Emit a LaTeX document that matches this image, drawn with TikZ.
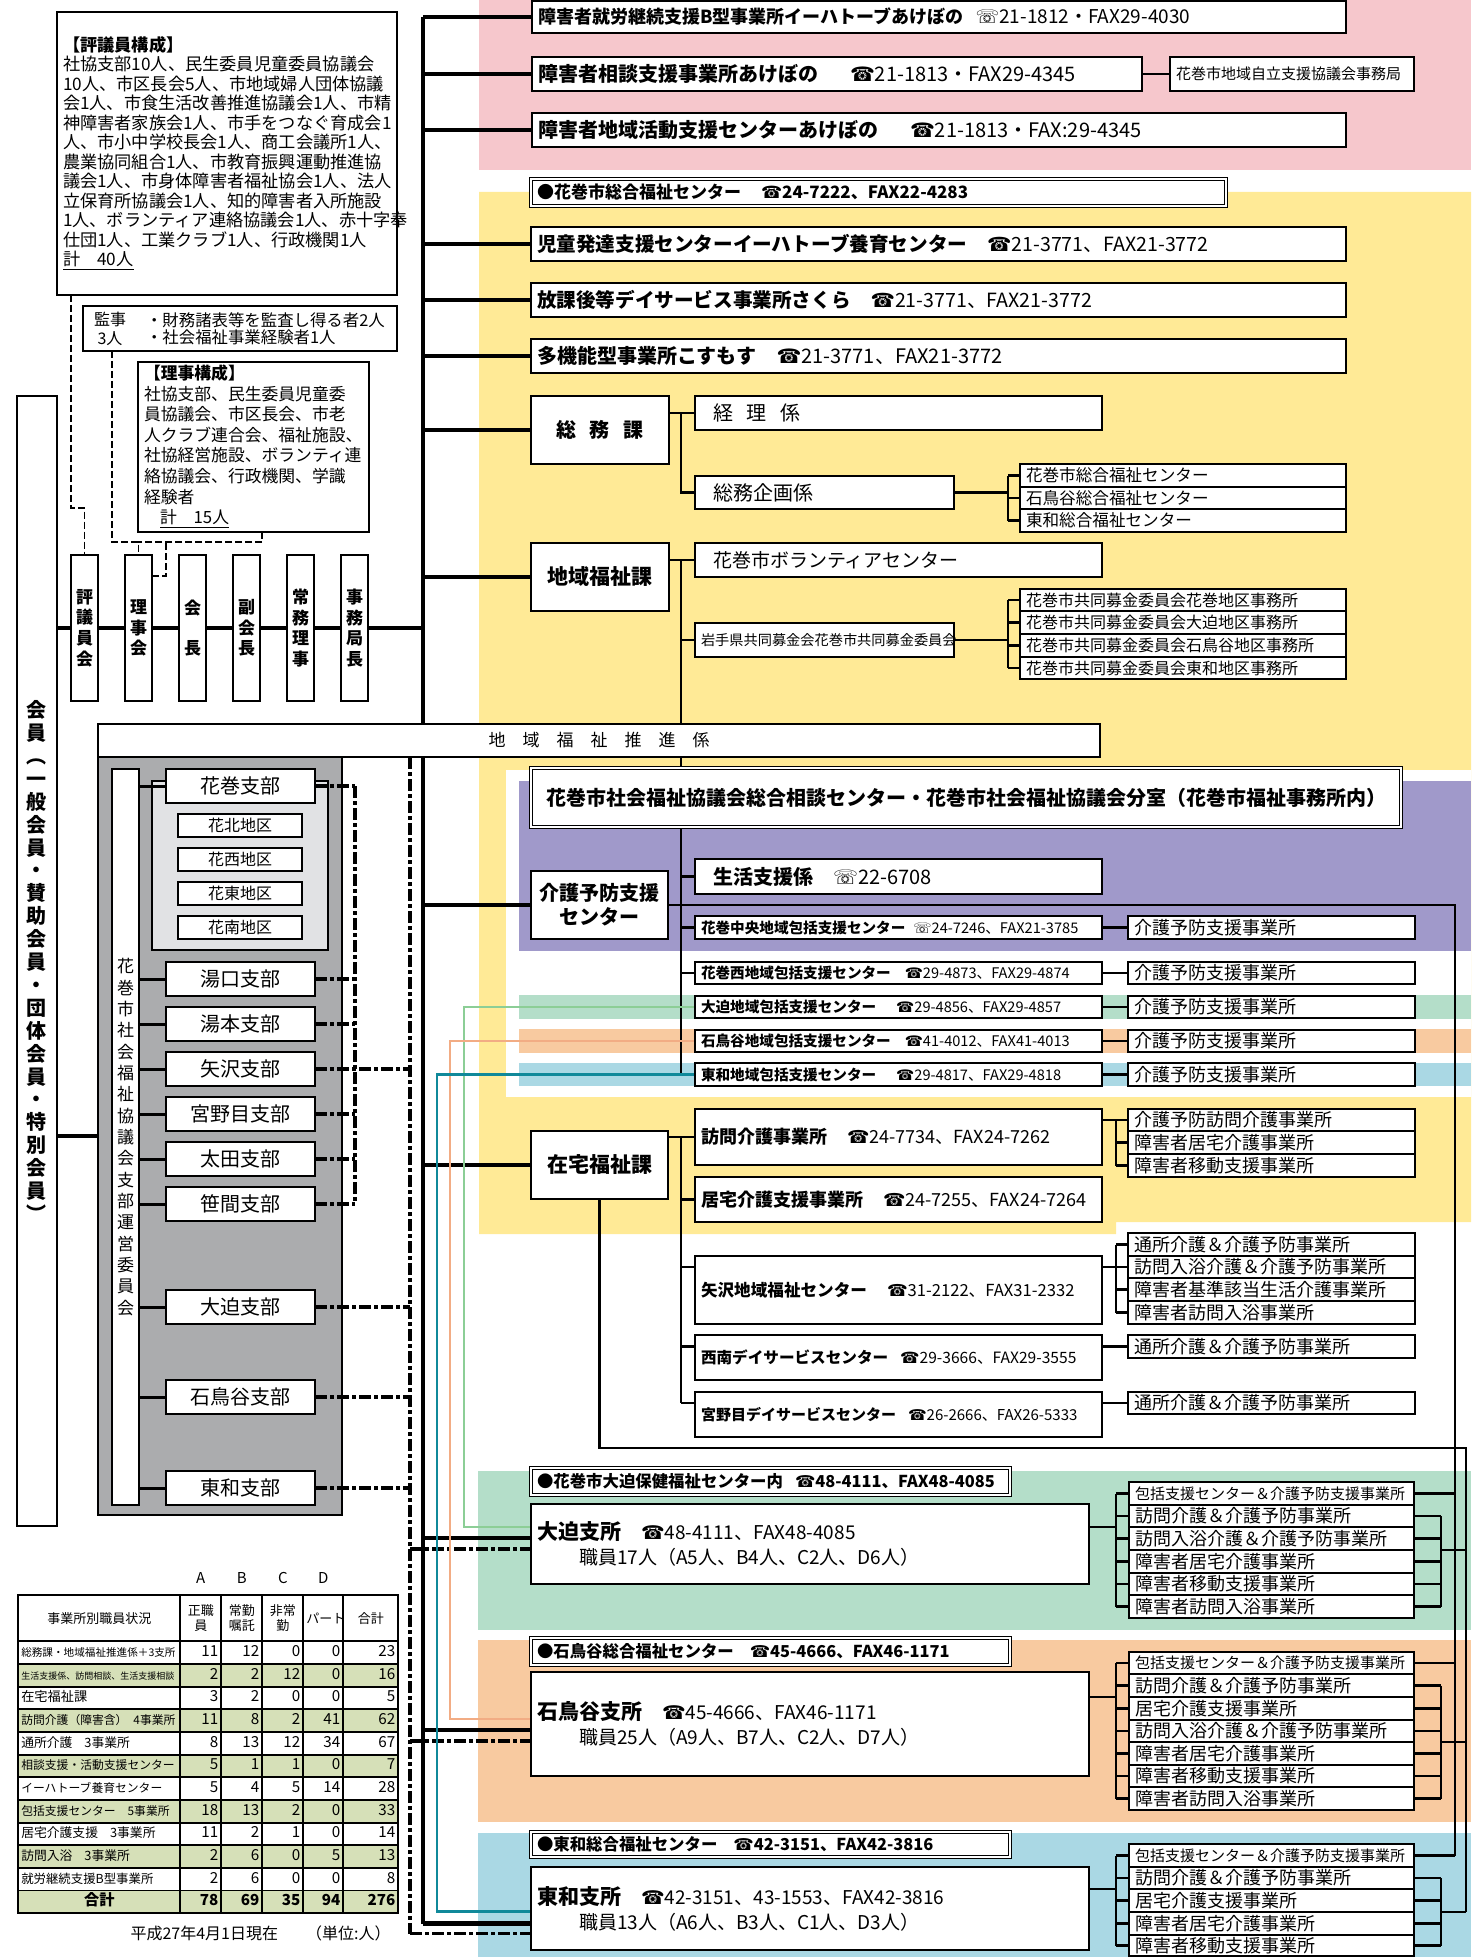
\documentclass[tikz,border=0pt]{standalone}
\usepackage{fontspec}
\setmainfont{Noto Sans CJK JP}
\newfontfamily\symfont{DejaVu Sans}
\usepackage{tikz}
\usetikzlibrary{positioning,matrix}
\definecolor{pinkbg}{RGB}{246,199,204}
\definecolor{yellowbg}{RGB}{255,234,150}
\definecolor{purplebg}{RGB}{160,153,202}
\definecolor{greenbg}{RGB}{180,222,201}
\definecolor{orangebg}{RGB}{248,202,160}
\definecolor{bluebg}{RGB}{170,216,228}
\definecolor{greenln}{RGB}{140,206,150}
\definecolor{orangeln}{RGB}{242,172,132}
\definecolor{tealln}{RGB}{16,137,154}
\definecolor{shibugray}{RGB}{171,172,174}
\definecolor{hanagray}{RGB}{225,226,228}
\definecolor{tablegreen}{RGB}{214,224,184}
\newcommand{\fsz}[2]{\fontsize{#1pt}{#2pt}\selectfont}
\newcommand{\tel}{{\symfont ☎}}
\newcommand{\wtel}{{\symfont ☏}}
\pgfdeclarelayer{bg}
\pgfdeclarelayer{wires}
\pgfsetlayers{bg,wires,main}
\tikzstyle{box} = [draw, fill=white, line width=1.1pt, outer sep=0pt, inner xsep=3pt, inner ysep=0pt, align=left]
\tikzstyle{cbox} = [align=center]
\tikzstyle{hdbox} = [double, double distance=0.9pt, line width=0.7pt]
\tikzstyle{tall} = [draw, fill=white, line width=1.1pt, outer sep=0pt, inner sep=0pt, align=center, minimum width=13.5pt, minimum height=73pt, font=\bfseries\fsz{8.5}{10.3}]
\tikzstyle{shibu} = [draw, fill=white, line width=1.2pt, outer sep=0pt, inner sep=0pt, minimum width=74.5pt, minimum height=17pt, font=\fsz{10}{11}]
\tikzstyle{chiku} = [draw, fill=white, line width=1.1pt, outer sep=0pt, inner sep=0pt, minimum width=62pt, minimum height=11.75pt, font=\fsz{8}{9}]
\tikzstyle{trunk} = [line width=2.2pt]
\tikzstyle{link} = [line width=1.3pt]
\tikzstyle{branch} = [line width=1.5pt]
\tikzstyle{dashlink} = [line width=1.8pt, dash pattern=on 6pt off 1.5pt on 2pt off 1.5pt]
\tikzstyle{dotlink} = [line width=0.9pt, dash pattern=on 3.5pt off 1.5pt]
\tikzstyle{greenline} = [line width=1.3pt, draw=greenln]
\tikzstyle{orangeline} = [line width=1.3pt, draw=orangeln]
\tikzstyle{tealline} = [line width=1.3pt, draw=tealln]
\newcommand{\bx}[7][]{%
  \pgfmathsetmacro{\bxw}{(#5-#3)/2-6}%
  \pgfmathsetmacro{\bxh}{(#6-#4)/2}%
  \node[box, text width=\bxw pt, minimum height=\bxh pt, #1] (#2) at ({(#3+#5)/2},{(#4+#6)/2}) {#7};}
\begin{document}
\begin{tikzpicture}[x=0.5pt, y=-0.5pt]
\useasboundingbox (0,0) rectangle (1471,1957);

\begin{pgfonlayer}{bg}
\fill[pinkbg] (479,0) rectangle (1471,170);
\fill[yellowbg] (479,192) -- (1471,192) -- (1471,1222) -- (1116,1222) -- (1116,1234) -- (479,1234) -- cycle;
\fill[white] (506,770) rectangle (1471,1097);
\fill[purplebg] (519,781) rectangle (1471,951);
\fill[greenbg] (519,995) rectangle (1471,1019);
\fill[orangebg] (519,1029) rectangle (1471,1053);
\fill[bluebg] (519,1063) rectangle (1471,1086);
\fill[greenbg] (478,1471) rectangle (1471,1630);
\fill[orangebg] (478,1640) rectangle (1471,1822);
\fill[bluebg] (478,1833) rectangle (1471,1957);
\bx[fill=shibugray]{shibuarea}{98}{757}{342}{1515}{}
\bx[fill=hanagray, line width=0.8pt]{hanaarea}{152}{781}{328}{950}{}
\end{pgfonlayer}

\bx[font=\fsz{8.6}{9.75}]{hyogi}{57}{12}{397}{295}{\textbf{【評議員構成】}\\社協支部10人、民生委員児童委員協議会\\10人、市区長会5人、市地域婦人団体協議\\会1人、市食生活改善推進協議会1人、市精\\神障害者家族会1人、市手をつなぐ育成会1\\人、市小中学校長会1人、商工会議所1人、\\農業協同組合1人、市教育振興運動推進協\\議会1人、市身体障害者福祉協会1人、法人\\立保育所協議会1人、知的障害者入所施設\\1人、ボランティア連絡協議会1人、赤十字奉\\仕団1人、工業クラブ1人、行政機関1人\\\underline{計　40人}}
\bx{kanji}{83}{306}{397}{351}{}
\node[font=\fsz{8}{9.5}, align=center] (kanjiL) at ([xshift=13.5pt]kanji.west) {監事\\3人};
\node[font=\fsz{8.2}{8.7}, align=left, anchor=west] (kanjiR) at ([xshift=28pt]kanji.west) {・財務諸表等を監査し得る者2人\\・社会福祉事業経験者1人};
\bx[font=\fsz{8.4}{10.3}]{riji}{138}{362}{369}{532}{\textbf{【理事構成】}\\社協支部、民生委員児童委\\員協議会、市区長会、市老\\人クラブ連合会、福祉施設、\\社協経営施設、ボランティ連\\絡協議会、行政機関、学識\\経験者\\\hspace*{8pt}\underline{計　15人}}

\node[tall] (hyogikai) at (84.5,628) {評\\議\\員\\会};
\node[tall, right=13.5pt of hyogikai] (rijikai) {理\\事\\会};
\node[tall, right=13.5pt of rijikai] (kaicho) {会\\[10pt]長};
\node[tall, right=13.5pt of kaicho] (fukukaicho) {副\\会\\長};
\node[tall, right=13.5pt of fukukaicho] (jomu) {常\\務\\理\\事};
\node[tall, right=13.5pt of jomu] (jimukyoku) {事\\務\\局\\長};

\bx[align=center, inner xsep=0pt, text width=20pt, font=\bfseries\fsz{10}{11.45}]{kaiin}{17}{396}{57}{1526}{会\\員\\︵\\一\\般\\会\\員\\・\\賛\\助\\会\\員\\・\\団\\体\\会\\員\\・\\特\\別\\会\\員\\︶}
\bx[align=center, font=\fsz{8.5}{10}]{suishin}{98}{724}{1100}{757}{地　域　福　祉　推　進　係}
\bx[align=center, inner xsep=0pt, text width=13.5pt, font=\fsz{8.5}{10.67}]{unei}{112}{769}{139}{1505}{花\\巻\\市\\社\\会\\福\\祉\\協\\議\\会\\支\\部\\運\\営\\委\\員\\会}

\node[shibu] (hanamaki) at (240.5,786) {花巻支部};
\node[chiku] (kahoku) at (240,825.5) {花北地区};
\node[chiku, below=5.25pt of kahoku] (kasai) {花西地区};
\node[chiku, below=5.25pt of kasai] (katou) {花東地区};
\node[chiku, below=5.25pt of katou] (kanan) {花南地区};
\node[shibu] (yuguchi) at (240.5,979) {湯口支部};
\node[shibu, below=5.5pt of yuguchi] (yumoto) {湯本支部};
\node[shibu, below=5.5pt of yumoto] (yazawa) {矢沢支部};
\node[shibu, below=5.5pt of yazawa] (miyanome) {宮野目支部};
\node[shibu, below=5.5pt of miyanome] (ota) {太田支部};
\node[shibu, below=5.5pt of ota] (sasama) {笹間支部};
\node[shibu] (ohasama) at (240.5,1307) {大迫支部};
\node[shibu] (ishidoriya) at (240.5,1397) {石鳥谷支部};
\node[shibu] (towa) at (240.5,1488) {東和支部};

\bx[font=\fsz{9}{10}]{shuro}{532}{1}{1346}{33}{\textbf{障害者就労継続支援B型事業所イーハトーブあけぼの}\hspace{6pt}{\fsz{9.5}{10}\wtel21-1812・FAX29-4030}}
\bx[font=\fsz{10}{11}]{sodan}{532}{57}{1142}{91}{\textbf{障害者相談支援事業所あけぼの}\hspace{16pt}\tel21-1813・FAX29-4345}
\bx[font=\fsz{7.5}{8.5}]{jiritsu}{1170}{57}{1414}{91}{花巻市地域自立支援協議会事務局}
\bx[font=\fsz{10}{11}]{katsudo}{532}{113}{1346}{147}{\textbf{障害者地域活動支援センターあけぼの}\hspace{16pt}\tel21-1813・FAX:29-4345}
\bx[hdbox, font=\bfseries\fsz{8.5}{9.5}]{fukushiC}{531}{179}{1226}{206}{●花巻市総合福祉センター\hspace{10pt}\tel24-7222、FAX22-4283}
\bx[font=\fsz{9.8}{11}]{jido}{531}{227}{1346}{261}{\textbf{児童発達支援センターイーハトーブ養育センター}\hspace{10pt}\tel21-3771、FAX21-3772}
\bx[font=\fsz{9.8}{11}]{hokago}{531}{283}{1346}{317}{\textbf{放課後等デイサービス事業所さくら}\hspace{10pt}\tel21-3771、FAX21-3772}
\bx[font=\fsz{10}{11}]{kosumosu}{531}{339}{1346}{373}{\textbf{多機能型事業所こすもす}\hspace{10pt}\tel21-3771、FAX21-3772}
\bx[cbox, font=\bfseries\fsz{10}{11}]{somu}{531}{396}{669}{464}{総\hspace{7pt}務\hspace{7pt}課}
\bx[font=\fsz{10}{11}]{keiri}{695}{396}{1102}{430}{\hspace*{6pt}経\hspace{7pt}理\hspace{7pt}係}
\bx[font=\fsz{10}{11}]{kikaku}{695}{476}{954}{509}{\hspace*{6pt}総務企画係}
\bx[font=\fsz{8.3}{9}]{sc1}{1020}{464}{1346}{487}{花巻市総合福祉センター}
\bx[font=\fsz{8.3}{9}]{sc2}{1020}{487}{1346}{509}{石鳥谷総合福祉センター}
\bx[font=\fsz{8.3}{9}]{sc3}{1020}{509}{1346}{532}{東和総合福祉センター}
\bx[cbox, font=\bfseries\fsz{10.5}{11}]{chiiki}{531}{543}{669}{611}{地域福祉課}
\bx[font=\fsz{9.5}{11}]{volunteer}{695}{543}{1102}{577}{\hspace*{6pt}花巻市ボランティアセンター}
\bx[font=\fsz{7.1}{8}]{iwate}{695}{623}{954}{657}{岩手県共同募金会花巻市共同募金委員会}
\bx[font=\fsz{8}{9}]{bk1}{1020}{589}{1346}{611}{花巻市共同募金委員会花巻地区事務所}
\bx[font=\fsz{8}{9}]{bk2}{1020}{611}{1346}{634}{花巻市共同募金委員会大迫地区事務所}
\bx[font=\fsz{8}{9}]{bk3}{1020}{634}{1346}{657}{花巻市共同募金委員会石鳥谷地区事務所}
\bx[font=\fsz{8}{9}]{bk4}{1020}{657}{1346}{679}{花巻市共同募金委員会東和地区事務所}

\bx[hdbox, align=center, font=\bfseries\fsz{10}{11}]{sogo}{531}{768}{1401}{827}{花巻市社会福祉協議会総合相談センター・花巻市社会福祉協議会分室（花巻市福祉事務所内）}
\bx[cbox, font=\bfseries\fsz{10}{12}]{kaigo}{531}{871}{668}{939}{介護予防支援\\センター}
\bx[font=\fsz{10}{11}]{seikatsu}{695}{859}{1102}{894}{\hspace*{6pt}\textbf{生活支援係}\hspace{10pt}\wtel22-6708}
\bx[font=\fsz{7.3}{9}]{hk1}{695}{916}{1102}{939}{\textbf{花巻中央地域包括支援センター}\hspace{4pt}\wtel24-7246、FAX21-3785}
\bx[font=\fsz{7.3}{9}]{hk2}{695}{962}{1102}{984}{\textbf{花巻西地域包括支援センター}\hspace{7pt}\tel29-4873、FAX29-4874}
\bx[font=\fsz{7.3}{9}]{hk3}{695}{996}{1102}{1018}{\textbf{大迫地域包括支援センター}\hspace{10pt}\tel29-4856、FAX29-4857}
\bx[font=\fsz{7.3}{9}]{hk4}{695}{1030}{1102}{1052}{\textbf{石鳥谷地域包括支援センター}\hspace{7pt}\tel41-4012、FAX41-4013}
\bx[font=\fsz{7.3}{9}]{hk5}{695}{1063}{1102}{1086}{\textbf{東和地域包括支援センター}\hspace{10pt}\tel29-4817、FAX29-4818}
\bx[font=\fsz{9}{10}]{yb1}{1128}{916}{1415}{939}{介護予防支援事業所}
\bx[font=\fsz{9}{10}]{yb2}{1128}{962}{1415}{984}{介護予防支援事業所}
\bx[font=\fsz{9}{10}]{yb3}{1128}{996}{1415}{1018}{介護予防支援事業所}
\bx[font=\fsz{9}{10}]{yb4}{1128}{1030}{1415}{1052}{介護予防支援事業所}
\bx[font=\fsz{9}{10}]{yb5}{1128}{1063}{1415}{1086}{介護予防支援事業所}

\bx[cbox, font=\bfseries\fsz{10.5}{11}]{zaitaku}{531}{1131}{668}{1199}{在宅福祉課}
\bx[font=\fsz{9}{10}]{homon}{695}{1109}{1102}{1165}{\textbf{訪問介護事業所}\hspace{10pt}\tel24-7734、FAX24-7262}
\bx[font=\fsz{9}{10}]{hm1}{1128}{1109}{1415}{1131}{介護予防訪問介護事業所}
\bx[font=\fsz{9}{10}]{hm2}{1128}{1131}{1415}{1154}{障害者居宅介護事業所}
\bx[font=\fsz{9}{10}]{hm3}{1128}{1154}{1415}{1177}{障害者移動支援事業所}
\bx[font=\fsz{9}{10}]{kyotaku}{695}{1177}{1102}{1222}{\textbf{居宅介護支援事業所}\hspace{10pt}\tel24-7255、FAX24-7264}
\bx[font=\fsz{8.3}{10}]{yazawaC}{695}{1256}{1102}{1324}{\textbf{矢沢地域福祉センター}\hspace{10pt}\tel31-2122、FAX31-2332}
\bx[font=\fsz{9}{10}]{yz1}{1128}{1233}{1415}{1256}{通所介護＆介護予防事業所}
\bx[font=\fsz{9}{10}]{yz2}{1128}{1256}{1415}{1278}{訪問入浴介護＆介護予防事業所}
\bx[font=\fsz{9}{10}]{yz3}{1128}{1278}{1415}{1301}{障害者基準該当生活介護事業所}
\bx[font=\fsz{9}{10}]{yz4}{1128}{1301}{1415}{1324}{障害者訪問入浴事業所}
\bx[font=\fsz{7.8}{10}]{seinan}{695}{1335}{1102}{1380}{\textbf{西南デイサービスセンター}\hspace{6pt}\tel29-3666、FAX29-3555}
\bx[font=\fsz{9}{10}]{sn1}{1128}{1335}{1415}{1358}{通所介護＆介護予防事業所}
\bx[font=\fsz{7.5}{10}]{miyanomeD}{695}{1392}{1102}{1437}{\textbf{宮野目デイサービスセンター}\hspace{6pt}\tel26-2666、FAX26-5333}
\bx[font=\fsz{9}{10}]{mn1}{1128}{1392}{1415}{1414}{通所介護＆介護予防事業所}

\bx[hdbox, font=\bfseries\fsz{8.2}{9.5}]{ohH}{531}{1468}{1010}{1495}{●花巻市大迫保健福祉センター内\hspace{6pt}\tel48-4111、FAX48-4085}
\bx[font=\fsz{9.5}{12.5}]{ohS}{531}{1504}{1089}{1584}{{\bfseries\fsz{10.5}{12.5}大迫支所}\hspace{10pt}\tel48-4111、FAX48-4085\\\hspace*{21pt}職員17人（A5人、B4人、C2人、D6人）}
\bx[font=\fsz{7.5}{9}]{oh1}{1129}{1482}{1414}{1505}{包括支援センター＆介護予防支援事業所}
\bx[font=\fsz{9}{10}]{oh2}{1129}{1505}{1414}{1527}{訪問介護＆介護予防事業所}
\bx[font=\fsz{9}{10}]{oh3}{1129}{1527}{1414}{1550}{訪問入浴介護＆介護予防事業所}
\bx[font=\fsz{9}{10}]{oh4}{1129}{1550}{1414}{1573}{障害者居宅介護事業所}
\bx[font=\fsz{9}{10}]{oh5}{1129}{1573}{1414}{1595}{障害者移動支援事業所}
\bx[font=\fsz{9}{10}]{oh6}{1129}{1595}{1414}{1618}{障害者訪問入浴事業所}

\bx[hdbox, font=\bfseries\fsz{8.2}{9.5}]{isH}{531}{1638}{1010}{1665}{●石鳥谷総合福祉センター\hspace{8pt}\tel45-4666、FAX46-1171}
\bx[font=\fsz{9.5}{12.5}]{isS}{531}{1672}{1089}{1776}{{\bfseries\fsz{10.5}{12.5}石鳥谷支所}\hspace{10pt}\tel45-4666、FAX46-1171\\\hspace*{21pt}職員25人（A9人、B7人、C2人、D7人）}
\bx[font=\fsz{7.5}{9}]{is1}{1129}{1652}{1414}{1674}{包括支援センター＆介護予防支援事業所}
\bx[font=\fsz{9}{10}]{is2}{1129}{1674}{1414}{1697}{訪問介護＆介護予防事業所}
\bx[font=\fsz{9}{10}]{is3}{1129}{1697}{1414}{1720}{居宅介護支援事業所}
\bx[font=\fsz{9}{10}]{is4}{1129}{1720}{1414}{1742}{訪問入浴介護＆介護予防事業所}
\bx[font=\fsz{9}{10}]{is5}{1129}{1742}{1414}{1765}{障害者居宅介護事業所}
\bx[font=\fsz{9}{10}]{is6}{1129}{1765}{1414}{1787}{障害者移動支援事業所}
\bx[font=\fsz{9}{10}]{is7}{1129}{1787}{1414}{1810}{障害者訪問入浴事業所}

\bx[hdbox, font=\bfseries\fsz{8.2}{9.5}]{twH}{531}{1832}{1010}{1857}{●東和総合福祉センター\hspace{8pt}\tel42-3151、FAX42-3816}
\bx[font=\fsz{9.5}{12.5}]{twS}{531}{1867}{1089}{1950}{{\bfseries\fsz{10.5}{12.5}東和支所}\hspace{10pt}\tel42-3151、43-1553、FAX42-3816\\\hspace*{21pt}職員13人（A6人、B3人、C1人、D3人）}
\bx[font=\fsz{7.5}{9}]{tw1}{1129}{1844}{1414}{1867}{包括支援センター＆介護予防支援事業所}
\bx[font=\fsz{9}{10}]{tw2}{1129}{1867}{1414}{1889}{訪問介護＆介護予防事業所}
\bx[font=\fsz{9}{10}]{tw3}{1129}{1889}{1414}{1912}{居宅介護支援事業所}
\bx[font=\fsz{9}{10}]{tw4}{1129}{1912}{1414}{1935}{障害者居宅介護事業所}
\bx[font=\fsz{9}{10}]{tw5}{1129}{1935}{1414}{1956}{障害者移動支援事業所}

\matrix (staff) [matrix of nodes, anchor=north west, inner sep=0pt, row sep=-0.9pt, column sep=-0.9pt,
  nodes={draw, anchor=center, line width=0.9pt, outer sep=0pt, inner xsep=1.5pt, inner ysep=0pt, minimum height=11.33pt, text height=5.6pt, text depth=1.6pt, align=right, font=\fsz{7.6}{8.5}},
  column 1/.style={nodes={text width=78pt, align=left, font=\fsz{5.9}{7}}},
  column 2/.style={nodes={text width=17.5pt}},
  column 3/.style={nodes={text width=17.5pt}},
  column 4/.style={nodes={text width=17.5pt}},
  column 5/.style={nodes={text width=17pt}},
  column 6/.style={nodes={text width=24.5pt}},
  row 1/.style={nodes={minimum height=23pt, text height={}, text depth={}, align=center, font=\fsz{6.5}{7.4}}},
  row 3/.style={nodes={fill=tablegreen}},
  row 5/.style={nodes={fill=tablegreen}},
  row 7/.style={nodes={fill=tablegreen}},
  row 9/.style={nodes={fill=tablegreen}},
  row 11/.style={nodes={fill=tablegreen}},
  row 13/.style={nodes={fill=tablegreen, font=\bfseries\fsz{7.6}{8.5}}}] at (17,1594) {
  事業所別職員状況 & {正職\\員} & {常勤\\嘱託} & {非常\\勤} & パート & 合計 \\
  |[font=\fsz{5.3}{6}]| 総務課・地域福祉推進係＋3支所 & 11 & 12 & 0 & 0 & 23 \\
  |[font=\fsz{4.5}{5}]| 生活支援係、訪問相談、生活支援相談 & 2 & 2 & 12 & 0 & 16 \\
  |[font=\fsz{6.6}{7}]| 在宅福祉課 & 3 & 2 & 0 & 0 & 5 \\
  訪問介護（障害含）\hspace{3pt}4事業所 & 11 & 8 & 2 & 41 & 62 \\
  |[font=\fsz{6.4}{7}]| 通所介護\hspace{6pt}3事業所 & 8 & 13 & 12 & 34 & 67 \\
  相談支援・活動支援センター & 5 & 1 & 1 & 0 & 7 \\
  イーハトーブ養育センター & 5 & 4 & 5 & 14 & 28 \\
  包括支援センター\hspace{6pt}5事業所 & 18 & 13 & 2 & 0 & 33 \\
  |[font=\fsz{6.4}{7}]| 居宅介護支援\hspace{6pt}3事業所 & 11 & 2 & 1 & 0 & 14 \\
  |[font=\fsz{6.4}{7}]| 訪問入浴\hspace{6pt}3事業所 & 2 & 6 & 0 & 5 & 13 \\
  |[font=\fsz{6.2}{7}]| 就労継続支援B型事業所 & 2 & 6 & 0 & 0 & 8 \\
  |[align=center]| 合計 & 78 & 69 & 35 & 94 & 276 \\
};
\node[above=2.5pt of staff-1-2, font=\fsz{7.5}{8}] (colA) {A};
\node[above=2.5pt of staff-1-3, font=\fsz{7.5}{8}] (colB) {B};
\node[above=2.5pt of staff-1-4, font=\fsz{7.5}{8}] (colC) {C};
\node[above=2.5pt of staff-1-5, font=\fsz{7.5}{8}] (colD) {D};
\node[below left=2pt and 1pt of staff.south east, font=\fsz{8}{9}] (asof) {平成27年4月1日現在\hspace{14pt}（単位:人）};

\begin{pgfonlayer}{wires}
\coordinate (spine) at (423,0);
\coordinate (bus) at (681,0);
\coordinate (bus2) at (1008,0);
\coordinate (bxL) at (1116,0);
\coordinate (bxR) at (1441,0);
\coordinate (v1) at (1455,0);
\coordinate (v2) at (1466,0);
\coordinate (dA) at (355,0);
\coordinate (dB) at (410,0);
\coordinate (gx) at (464,0);
\coordinate (ox) at (450,0);
\coordinate (tx) at (437,0);
\coordinate (oB) at ([yshift=3pt]ohS.west);
\coordinate (oG) at ([yshift=8.5pt]ohS.west);
\coordinate (oD) at ([yshift=-2.5pt]ohS.west);
\coordinate (iB) at ([yshift=-3pt]isS.west);
\coordinate (iO) at ([yshift=2.5pt]isS.west);
\coordinate (iD) at ([yshift=-8.5pt]isS.west);
\coordinate (tB) at ([yshift=-7.5pt]twS.west);
\coordinate (tT) at ([yshift=-1.5pt]twS.west);
\coordinate (tD) at ([yshift=-12.5pt]twS.west);

\draw[trunk] (shuro.west -| spine) -- (tB -| spine);
\draw[trunk] (shuro.west -| spine) -- (shuro.west);
\draw[trunk] (sodan.west -| spine) -- (sodan.west);
\draw[trunk] (katsudo.west -| spine) -- (katsudo.west);
\draw[trunk] (jido.west -| spine) -- (jido.west);
\draw[trunk] (hokago.west -| spine) -- (hokago.west);
\draw[trunk] (kosumosu.west -| spine) -- (kosumosu.west);
\draw[trunk] (somu.west -| spine) -- (somu.west);
\draw[trunk] (chiiki.west -| spine) -- (chiiki.west);
\draw[trunk] (kaigo.west -| spine) -- (kaigo.west);
\draw[trunk] (zaitaku.west -| spine) -- (zaitaku.west);
\draw[trunk] (oB -| spine) -- (oB);
\draw[trunk] (iB -| spine) -- (iB);
\draw[trunk] (tB -| spine) -- (tB);
\draw[trunk] (kaiin.east |- jimukyoku.center) -- (jimukyoku.center -| spine);
\draw[trunk] (kaiin.east |- shibuarea.west) -- (shibuarea.west);

\draw[branch] (unei.east |- hanamaki.west) -- (hanamaki.west);
\draw[branch] (unei.east |- yuguchi.west) -- (yuguchi.west);
\draw[branch] (unei.east |- yumoto.west) -- (yumoto.west);
\draw[branch] (unei.east |- yazawa.west) -- (yazawa.west);
\draw[branch] (unei.east |- miyanome.west) -- (miyanome.west);
\draw[branch] (unei.east |- ota.west) -- (ota.west);
\draw[branch] (unei.east |- sasama.west) -- (sasama.west);
\draw[branch] (unei.east |- ohasama.west) -- (ohasama.west);
\draw[branch] (unei.east |- ishidoriya.west) -- (ishidoriya.west);
\draw[branch] (unei.east |- towa.west) -- (towa.west);

\draw[dashlink] (hanamaki.east) -- (hanamaki.east -| dA);
\draw[dashlink] (yuguchi.east) -- (yuguchi.east -| dA);
\draw[dashlink] (yumoto.east) -- (yumoto.east -| dA);
\draw[dashlink] (miyanome.east) -- (miyanome.east -| dA);
\draw[dashlink] (ota.east) -- (ota.east -| dA);
\draw[dashlink] (sasama.east) -- (sasama.east -| dA);
\draw[dashlink] (hanamaki.east -| dA) -- (sasama.east -| dA);
\draw[dashlink] (yazawa.east) -- (yazawa.east -| dB);
\draw[dashlink] (ohasama.east) -- (ohasama.east -| dB);
\draw[dashlink] (ishidoriya.east) -- (ishidoriya.east -| dB);
\draw[dashlink] (towa.east) -- (towa.east -| dB);
\draw[dashlink] (suishin.south -| dB) -- (tD -| dB);
\draw[dashlink] (oD -| dB) -- (oD);
\draw[dashlink] (iD -| dB) -- (iD);
\draw[dashlink] (tD -| dB) -- (tD);

\draw[dotlink] ([xshift=27.5pt]kanji.north west) -- ([xshift=27.5pt]kanji.south west);
\draw[dotlink] ([xshift=7pt]hyogi.south west) -- ++(0,213) -| (hyogikai.north);
\draw[dotlink] ([xshift=14.5pt]kanji.south west) -- ++(0,191) -| (rijikai.north);
\draw[dotlink] ([xshift=62pt]riji.south west) -- ++(0,10) -- ++(-124,0);
\draw[dotlink] ([yshift=-10.5pt]rijikai.north east) -- ++(14,0) -- ++(0,-34);

\draw[link] (sodan.east) -- (jiritsu.west);
\draw[link] (somu.east |- keiri.west) -- (keiri.west);
\draw[link] (keiri.west -| bus) |- (kikaku.west);
\draw[link] (kikaku.east) -- (kikaku.east -| bus2);
\draw[link] (sc1.west -| bus2) -- (sc3.west -| bus2);
\draw[link] (sc1.west -| bus2) -- (sc1.west);
\draw[link] (sc2.west -| bus2) -- (sc2.west);
\draw[link] (sc3.west -| bus2) -- (sc3.west);
\draw[link] (chiiki.east |- volunteer.west) -- (volunteer.west);
\draw[link] (volunteer.west -| bus) -- (sogo.north -| bus);
\draw[link] (iwate.west -| bus) -- (iwate.west);
\draw[link] (iwate.east) -- (iwate.east -| bus2);
\draw[link] (bk1.west -| bus2) -- (bk4.west -| bus2);
\draw[link] (bk1.west -| bus2) -- (bk1.west);
\draw[link] (bk2.west -| bus2) -- (bk2.west);
\draw[link] (bk3.west -| bus2) -- (bk3.west);
\draw[link] (bk4.west -| bus2) -- (bk4.west);

\draw[link] (sogo.south -| bus) -- (hk5.west -| bus);
\draw[link] (seikatsu.west -| bus) -- (seikatsu.west);
\draw[link] (hk1.west -| bus) -- (hk1.west);
\draw[link] (hk2.west -| bus) -- (hk2.west);
\draw[link] (hk3.west -| bus) -- (hk3.west);
\draw[link] (hk4.west -| bus) -- (hk4.west);
\draw[link] (hk5.west -| bus) -- (hk5.west);
\draw[link] (hk1.east) -- (yb1.west);
\draw[link] (hk2.east) -- (yb2.west);
\draw[link] (hk3.east) -- (yb3.west);
\draw[link] (hk4.east) -- (yb4.west);
\draw[link] (hk5.east) -- (yb5.west);
\draw[link] (kaigo.east) -- (kaigo.east -| v1) -- (tw1.east -| v1);
\draw[link] (oh1.east) -- (oh1.east -| v1);
\draw[link] (is1.east) -- (is1.east -| v1);
\draw[link] (tw1.east) -- (tw1.east -| v1);

\draw[link] (zaitaku.east |- homon.west) -- (homon.west);
\draw[link] (homon.west -| bus) -- (mn1.west -| bus);
\draw[link] (kyotaku.west -| bus) -- (kyotaku.west);
\draw[link] (yz2.west -| bus) -- (yz2.west -| yazawaC.west);
\draw[link] (sn1.west -| bus) -- (sn1.west -| seinan.west);
\draw[link] (mn1.west -| bus) -- (mn1.west -| miyanomeD.west);
\draw[link] (homon.east |- hm1.west) -- (hm1.west);
\draw[link] (hm1.west -| bxL) -- (hm3.west -| bxL);
\draw[link] (hm2.west -| bxL) -- (hm2.west);
\draw[link] (hm3.west -| bxL) -- (hm3.west);
\draw[link] (yazawaC.east |- yz2.west) -- (yz2.west);
\draw[link] (yz1.west -| bxL) -- (yz4.west -| bxL);
\draw[link] (yz1.west -| bxL) -- (yz1.west);
\draw[link] (yz3.west -| bxL) -- (yz3.west);
\draw[link] (yz4.west -| bxL) -- (yz4.west);
\draw[link] (seinan.east |- sn1.west) -- (sn1.west);
\draw[link] (miyanomeD.east |- mn1.west) -- (mn1.west);

\draw[link] (ohS.east |- oh2.south) -- (oh2.south -| bxL);
\draw[link] (oh1.west -| bxL) -- (oh6.west -| bxL);
\draw[link] (oh1.west -| bxL) -- (oh1.west);
\draw[link] (oh2.west -| bxL) -- (oh2.west);
\draw[link] (oh3.west -| bxL) -- (oh3.west);
\draw[link] (oh4.west -| bxL) -- (oh4.west);
\draw[link] (oh5.west -| bxL) -- (oh5.west);
\draw[link] (oh6.west -| bxL) -- (oh6.west);
\draw[link] (isS.east |- is2.south) -- (is2.south -| bxL);
\draw[link] (is1.west -| bxL) -- (is7.west -| bxL);
\draw[link] (is1.west -| bxL) -- (is1.west);
\draw[link] (is2.west -| bxL) -- (is2.west);
\draw[link] (is3.west -| bxL) -- (is3.west);
\draw[link] (is4.west -| bxL) -- (is4.west);
\draw[link] (is5.west -| bxL) -- (is5.west);
\draw[link] (is6.west -| bxL) -- (is6.west);
\draw[link] (is7.west -| bxL) -- (is7.west);
\draw[link] (twS.east |- tw2.south) -- (tw2.south -| bxL);
\draw[link] (tw1.west -| bxL) -- (tw5.west -| bxL);
\draw[link] (tw1.west -| bxL) -- (tw1.west);
\draw[link] (tw2.west -| bxL) -- (tw2.west);
\draw[link] (tw3.west -| bxL) -- (tw3.west);
\draw[link] (tw4.west -| bxL) -- (tw4.west);
\draw[link] (tw5.west -| bxL) -- (tw5.west);

\draw[link] (oh2.east -| bxR) -- (oh6.east -| bxR);
\draw[link] (oh2.east) -- (oh2.east -| bxR);
\draw[link] (oh3.east) -- (oh3.east -| bxR);
\draw[link] (oh4.east) -- (oh4.east -| bxR);
\draw[link] (oh5.east) -- (oh5.east -| bxR);
\draw[link] (oh6.east) -- (oh6.east -| bxR);
\draw[link] (oh3.south east -| bxR) -- (oh3.south east -| v2);
\draw[link] (is2.east -| bxR) -- (is7.east -| bxR);
\draw[link] (is2.east) -- (is2.east -| bxR);
\draw[link] (is3.east) -- (is3.east -| bxR);
\draw[link] (is4.east) -- (is4.east -| bxR);
\draw[link] (is5.east) -- (is5.east -| bxR);
\draw[link] (is6.east) -- (is6.east -| bxR);
\draw[link] (is7.east) -- (is7.east -| bxR);
\draw[link] (is4.south east -| bxR) -- (is4.south east -| v2);
\draw[link] (tw2.east -| bxR) -- (tw5.east -| bxR);
\draw[link] (tw2.east) -- (tw2.east -| bxR);
\draw[link] (tw3.east) -- (tw3.east -| bxR);
\draw[link] (tw4.east) -- (tw4.east -| bxR);
\draw[link] (tw5.east) -- (tw5.east -| bxR);
\draw[link] (tw3.south east -| bxR) -- (tw3.south east -| v2);
\draw[link] (zaitaku.south) -- ++(0,249) -| (tw3.south east -| v2);

\draw[greenline] (hk3.west) -- (hk3.west -| gx) -- (gx |- oG) -- (oG);
\draw[orangeline] (hk4.west) -- (hk4.west -| ox) -- (ox |- iO) -- (iO);
\draw[tealline] (hk5.west) -- (hk5.west -| tx) -- (tx |- tT) -- (tT);
\end{pgfonlayer}
\end{tikzpicture}
\end{document}
